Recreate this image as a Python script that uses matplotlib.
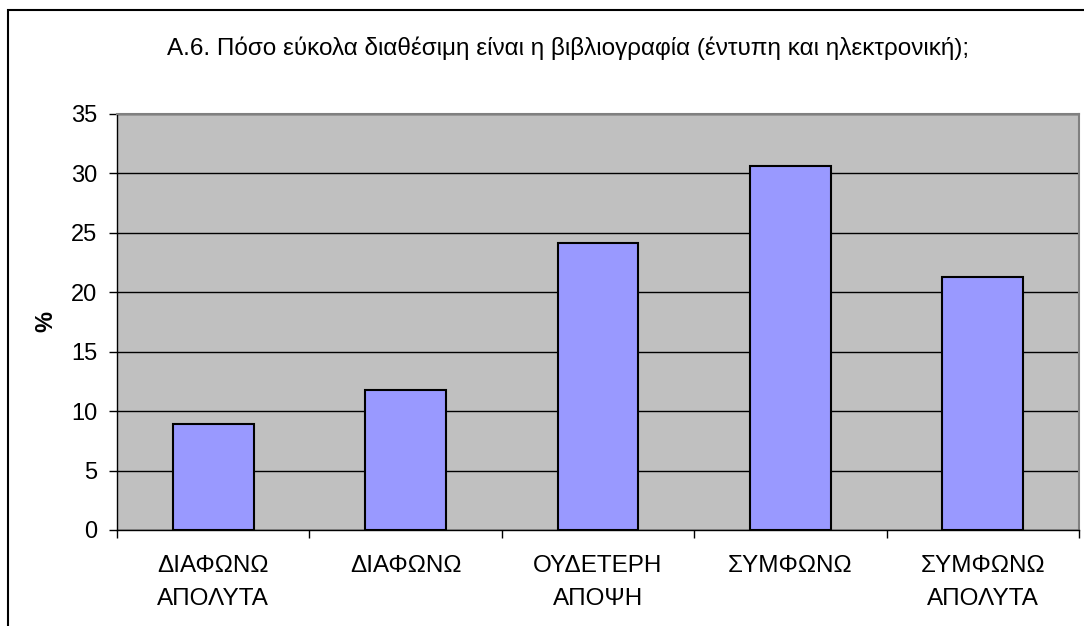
import matplotlib.pyplot as plt
from matplotlib.patches import Rectangle
import numpy as np

plt.rcParams['font.family'] = ['Liberation Sans', 'DejaVu Sans']

# dane
kategorie = ['ΔΙΑΦΩΝΩ\nΑΠΟΛΥΤΑ', 'ΔΙΑΦΩΝΩ', 'ΟΥΔΕΤΕΡΗ\nΑΠΟΨΗ', 'ΣΥΜΦΩΝΩ', 'ΣΥΜΦΩΝΩ\nΑΠΟΛΥΤΑ']
procenty = [8.93, 11.8, 24.15, 30.64, 21.29]
y_ticks = [0, 5, 10, 15, 20, 25, 30, 35]
tytul = 'A.6. Πόσο εύκολα διαθέσιμη είναι η βιβλιογραφία (έντυπη και ηλεκτρονική);'

fig = plt.figure(figsize=(10.84, 6.26), dpi=100)
ax = fig.add_axes([117 / 1084, 96 / 626, 962 / 1084, 416 / 626])

# ramka wokół całego wykresu (przycięta z prawej i z dołu)
fig.patches.append(Rectangle((8 / 1084, -0.1), 2, 1 - 10 / 626 + 0.1,
                             transform=fig.transFigure, fill=False,
                             edgecolor='black', linewidth=1.5))

x = np.arange(len(kategorie))
ax.set_facecolor('#c0c0c0')
ax.set_axisbelow(True)
ax.yaxis.grid(True, color='black', linewidth=1)
ax.bar(x, procenty, width=0.42, color='#9999ff', edgecolor='black', linewidth=1.5)

ax.set_xlim(-0.5, len(kategorie) - 0.5)
ax.set_ylim(0, 35)
ax.set_yticks(y_ticks)
ax.set_xticks(x)
ax.set_xticklabels(kategorie, fontsize=17.5, linespacing=1.65)
ax.set_xticks(np.arange(len(kategorie) + 1) - 0.5, minor=True)
ax.tick_params(axis='x', which='major', length=0, pad=18)
ax.tick_params(axis='x', which='minor', length=6, width=1)
ax.tick_params(axis='y', labelsize=17, length=6, width=1, pad=8)

for s in ['top', 'right']:
    ax.spines[s].set_color('#808080')
    ax.spines[s].set_linewidth(1.5)
ax.spines['left'].set_linewidth(1)
ax.spines['bottom'].set_linewidth(1)

ax.set_ylabel('%', fontsize=17, fontweight='bold', labelpad=10)
fig.text(568 / 1084, 1 - 48 / 626, tytul, ha='center', va='center', fontsize=17.5)

plt.savefig('out.png', dpi=100)
